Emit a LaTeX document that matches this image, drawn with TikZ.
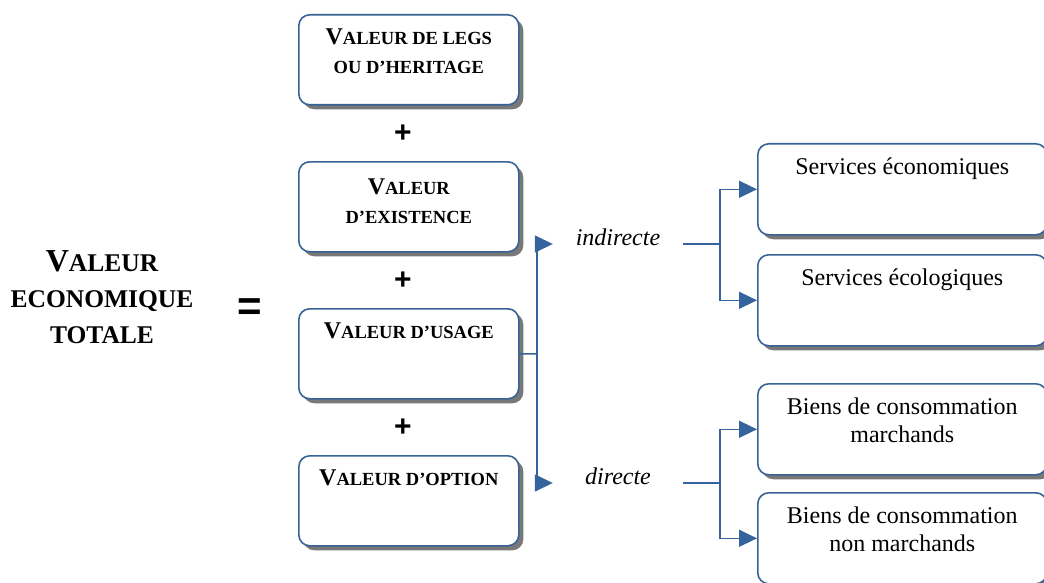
\documentclass[tikz,border=0pt]{standalone}
\usepackage{fontspec}
\setmainfont{Liberation Serif}
\newfontfamily\signfont{Liberation Sans}
\usetikzlibrary{shadows,arrows.meta}

\definecolor{boxblue}{RGB}{56,99,150}
\definecolor{linkblue}{RGB}{52,100,155}
\definecolor{shadowgray}{RGB}{120,120,120}

% fake small capitals: first letter at full size, the rest smaller
\newcommand\capsV[2]{{\fontsize{24}{29}\selectfont #1}#2}
\newcommand\capsT[2]{{\fontsize{32}{36}\selectfont #1}#2}

\tikzset{
  valbox/.style={draw=boxblue, line width=1.6pt, rounded corners=11pt, fill=white,
    drop shadow={shadow xshift=4.5pt, shadow yshift=-4.5pt, fill=shadowgray, opacity=1},
    minimum width=220pt, minimum height=90pt, anchor=north west, inner sep=0pt},
  catbox/.style={valbox, minimum width=289pt, minimum height=91pt},
  valtext/.style={anchor=north, align=center, inner sep=0pt, yshift=-15pt,
    font=\fontsize{18.5}{29}\selectfont\bfseries},
  cattext/.style={anchor=north, align=center, inner sep=0pt, yshift=-15pt,
    font=\fontsize{24}{28}\selectfont},
  kind/.style={inner sep=0pt, minimum width=130pt, text height=3pt, text depth=0pt,
    font=\fontsize{24}{28}\selectfont\itshape},
  plussign/.style={font=\signfont\bfseries\fontsize{30}{30}\selectfont, inner sep=0pt},
  link/.style={draw=linkblue, line width=1.5pt},
  arrowlink/.style={link, -{Triangle[length=18pt,width=17pt]}},
}

\begin{document}
\begin{tikzpicture}[x=1pt, y=-1pt]
\useasboundingbox (0,0) rectangle (1044,583);

% total economic value and equals sign
\node[align=center, inner sep=0pt, font=\fontsize{25.5}{36}\selectfont\bfseries] (tev) at (102,297)
  {\capsT{V}{ALEUR}\\ECONOMIQUE\\TOTALE};
\node[font=\signfont\bfseries\fontsize{42}{42}\selectfont, inner sep=0pt] (eq) at (250,310) {=};

% the four components
\node[valbox] (b1) at (298,14) {};
\node[valtext] (t1) at (b1.north) {\capsV{V}{ALEUR DE LEGS}\\OU D’HERITAGE};
\node[plussign] (p1) at (403,134) {+};
\node[valbox] (b2) at (298,161) {};
\node[valtext, yshift=-3pt] (t2) at (b2.north) {\capsV{V}{ALEUR}\\D’EXISTENCE};
\node[plussign] (p2) at (403,281) {+};
\node[valbox] (b3) at (298,308) {};
\node[valtext] (t3) at (b3.north) {\capsV{V}{ALEUR D’USAGE}};
\node[plussign] (p3) at (403,428) {+};
\node[valbox] (b4) at (298,455) {};
\node[valtext] (t4) at (b4.north) {\capsV{V}{ALEUR D’OPTION}};

% indirect / direct use
\node[kind] (ind) at (618,244) {indirecte};
\node[kind] (dir) at (618,483) {directe};

% categories
\node[catbox] (sA) at (757,143) {};
\node[cattext] (tA) at (sA.north) {Services économiques};
\node[catbox] (sB) at (757,254) {};
\node[cattext] (tB) at (sB.north) {Services écologiques};
\node[catbox] (sC) at (757,383) {};
\node[cattext] (tC) at (sC.north) {Biens de consommation\\marchands};
\node[catbox] (sD) at (757,492) {};
\node[cattext] (tD) at (sD.north) {Biens de consommation\\non marchands};

% connectors
\coordinate (j0) at (537,354);
\coordinate (j1) at (720,244);
\coordinate (j2) at (720,483);
\draw[link] (b3.east) -- (j0);
\draw[arrowlink] (j0) |- (ind.west);
\draw[arrowlink] (j0) |- (dir.west);
\draw[link] (ind.east) -- (j1);
\draw[arrowlink] (j1) |- (sA.west);
\draw[arrowlink] (j1) |- (sB.west);
\draw[link] (dir.east) -- (j2);
\draw[arrowlink] (j2) |- (sC.west);
\draw[arrowlink] (j2) |- (sD.west);
\end{tikzpicture}
\end{document}
